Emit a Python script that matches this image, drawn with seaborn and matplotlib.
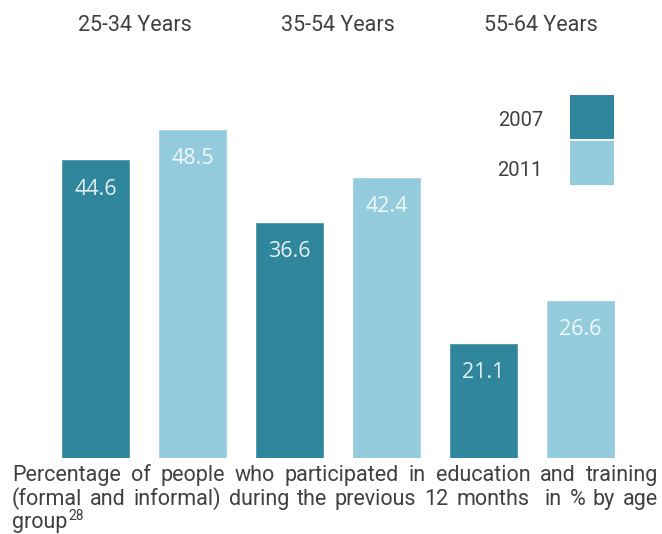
import matplotlib
matplotlib.use("Agg")
import matplotlib.pyplot as plt
from matplotlib.patches import Patch
import seaborn as sns
import pandas as pd

# Data
age_groups = ["25-34 Years", "35-54 Years", "55-64 Years"]
years = ["2007", "2011"]
values_2007 = [44.6, 36.6, 21.1]
values_2011 = [48.5, 42.4, 26.6]
colors = {"2007": "#30869c", "2011": "#94ccde"}

caption_line1 = "Percentage of people who participated in education and training"
caption_line2 = "(formal and informal) during the previous 12 months  in % by age"
caption_line3 = "group"
footnote = "28"

df = pd.DataFrame({
    "age": age_groups * 2,
    "year": [years[0]] * 3 + [years[1]] * 3,
    "value": values_2007 + values_2011,
})

sns.set_theme(style="white")
plt.rcParams["font.family"] = ["Roboto", "DejaVu Sans"]

W, H = 662, 534
fig = plt.figure(figsize=(W / 100, H / 100), dpi=100)
ax = fig.add_axes([0, 76 / H, 1, 398 / H])

sns.barplot(data=df, x="age", y="value", hue="year", order=age_groups,
            hue_order=years, palette=colors, saturation=1, width=1.0,
            gap=0.29, legend=False, ax=ax)

ax.set_xlim(-0.742, 2.670)
ax.set_ylim(6.37, 57.33)
ax.axis("off")

for cont in ax.containers:
    ax.bar_label(cont, fmt="%.1f", label_type="edge", padding=-29,
                 color="white", alpha=0.88, fontsize=15.5, family="Open Sans")

# Group headings across the top
txt_color = "#404040"
for label, xc in zip(age_groups, [135, 338, 541]):
    fig.text(xc / W, 1 - 31 / H, label, ha="center", va="baseline",
             fontsize=15.5, color=txt_color)

# Legend: stacked colour swatches, year labels to their left
handles = [Patch(facecolor=colors[y], edgecolor="none") for y in years]
leg = ax.legend(handles, ["", ""], loc="upper right", frameon=False,
                bbox_to_anchor=(614 / W, 1 - 95 / H),
                bbox_transform=fig.transFigure, markerfirst=False,
                fontsize=14.5, handlelength=2.19, handleheight=2.99,
                labelspacing=0.11, handletextpad=0, borderpad=0,
                borderaxespad=0)
for yr, yc in zip(years, [120, 171]):
    fig.text(543 / W, 1 - yc / H, yr, ha="right", va="center",
             fontsize=14.5, color=txt_color)

# Justified caption below the bars
cap_fs = 15.5
left, right = 12, 658
renderer = fig.canvas.get_renderer()


def justify(line, baseline):
    tokens = line.split(" ")
    words, weights = [], []
    for tok in tokens:
        if tok == "":
            weights[-1] += 1
            continue
        words.append(tok)
        weights.append(1)
    weights = weights[:-1]
    objs = [fig.text(0, 1 - baseline / H, wd, fontsize=cap_fs, color=txt_color,
                     va="baseline", ha="left") for wd in words]
    widths = [o.get_window_extent(renderer).width for o in objs]
    free = (right - left) - sum(widths)
    unit = free / sum(weights)
    x = left
    for i, o in enumerate(objs):
        o.set_x(x / W)
        x += widths[i]
        if i < len(weights):
            x += unit * weights[i]


justify(caption_line1, 481)
justify(caption_line2, 505)
g = fig.text(left / W, 1 - 528 / H, caption_line3, fontsize=cap_fs,
             color=txt_color, va="baseline", ha="left")
gw = g.get_window_extent(renderer).width
fig.text((left + gw + 1) / W, 1 - 520 / H, footnote, fontsize=10,
         color=txt_color, va="baseline", ha="left")

fig.savefig("out.png", dpi=100)
